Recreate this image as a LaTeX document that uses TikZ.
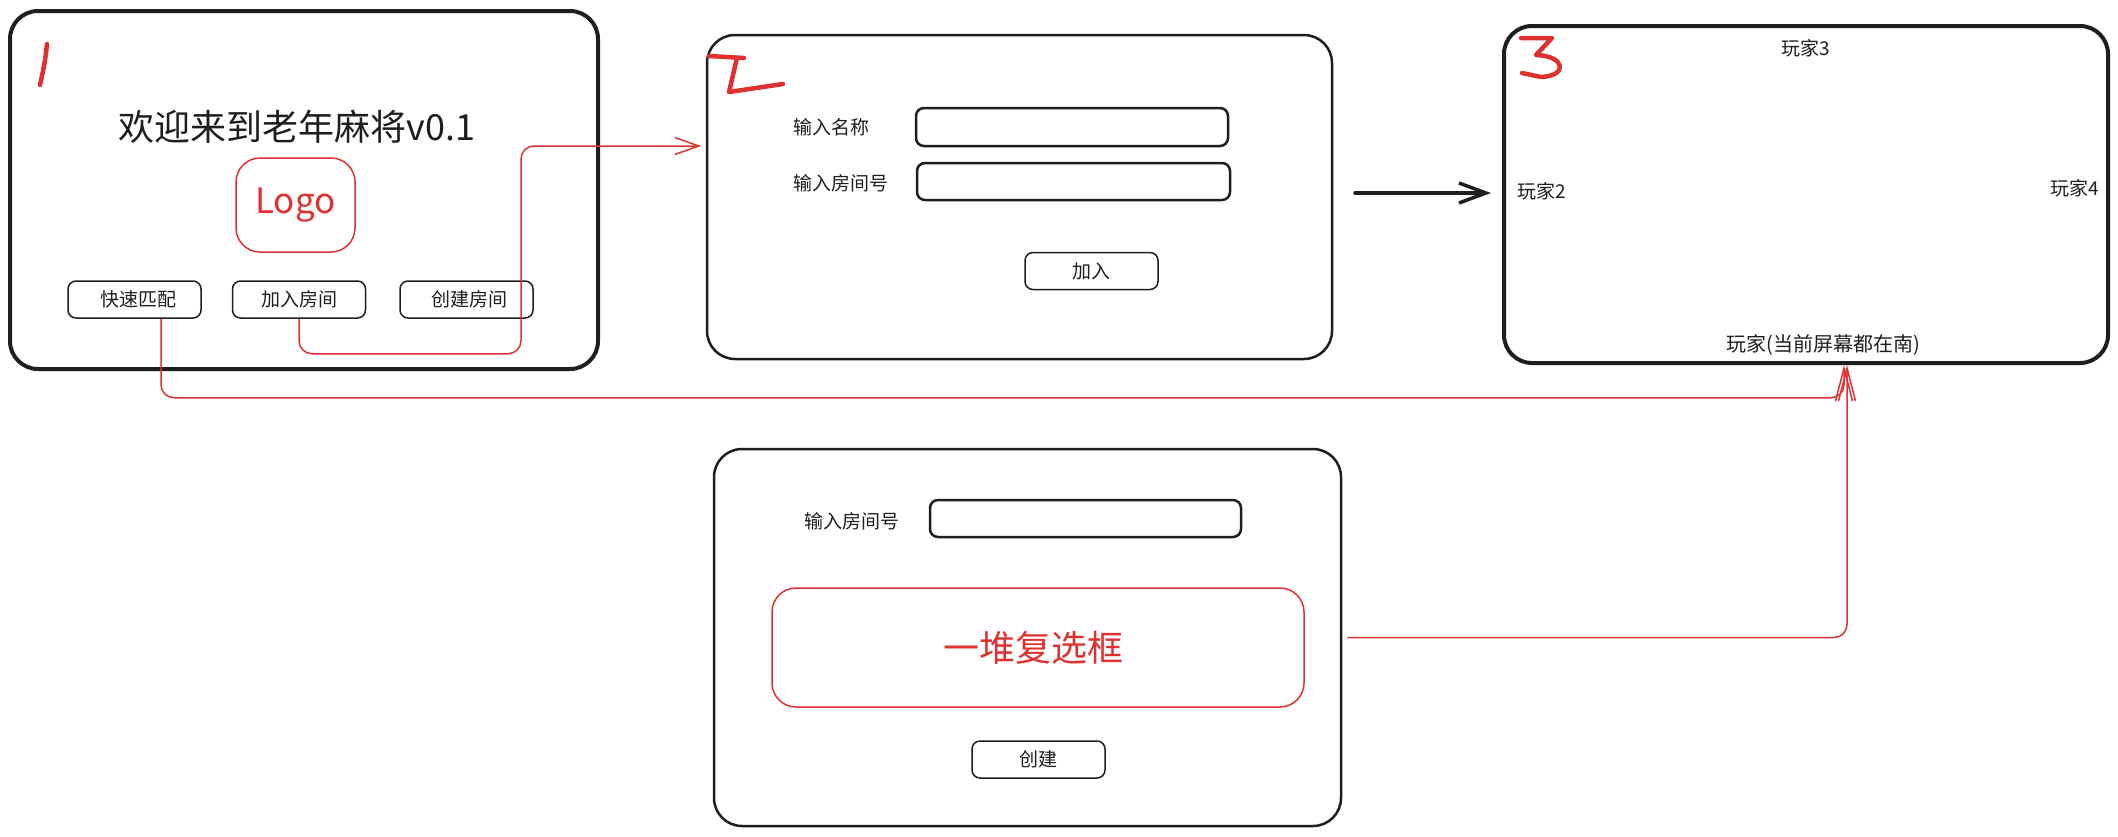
\documentclass[tikz,border=0pt]{standalone}
\usepackage{fontspec}
\setmainfont{Noto Sans CJK SC}
\usetikzlibrary{arrows.meta,calc}
\definecolor{ink}{HTML}{1E1E1E}
\definecolor{mark}{HTML}{E03131}
\newcommand\fsz[1]{\fontsize{#1}{#1}\selectfont}

\begin{document}
\begin{tikzpicture}[x=1pt,y=-1pt,
  panel/.style={draw=ink, rounded corners=28pt, inner sep=0pt},
  thickpanel/.style={panel, line width=4pt},
  thinpanel/.style={panel, line width=2.5pt},
  btn/.style={draw=ink, line width=1.5pt, rounded corners=8pt, minimum width=133pt,
    minimum height=37pt, inner sep=0pt, font=\fsz{19}, text=ink},
  field/.style={draw=ink, line width=2.5pt, rounded corners=8pt, inner sep=0pt},
  lbl/.style={inner sep=0pt, font=\fsz{19}, text=ink},
  redbox/.style={draw=mark, line width=1.5pt, rounded corners=24pt, inner sep=0pt, text=mark},
  flow/.style={draw=mark, line width=1.5pt, rounded corners=13pt,
    -{Straight Barb[length=24pt,width=17pt,line width=1.5pt]}},
  flowlong/.style={flow, -{Straight Barb[length=33pt,width=17pt,line width=1.5pt]}},
  digit/.style={draw=mark, line width=4.5pt, line cap=round, line join=round},
]
\fill[white] (0,0) rectangle (2118,836);
\useasboundingbox (0,0) rectangle (2118,836);

% ---- screen 1: welcome ----
\node[thickpanel, minimum width=588pt, minimum height=358pt] (s1) at (304,190) {};
\draw[digit] (47,44) .. controls (45,62) .. (40,85);
\node[inner sep=0pt, font=\fsz{36}, text=ink] (title) at (297,127) {欢迎来到老年麻将v0.1};
\node[redbox, minimum width=119pt, minimum height=94pt, font=\fsz{35}] (logo) at (295.5,205) {\raisebox{-3pt}{Logo}};
\node[btn] (quick) at (134.5,299.5) {\hspace*{8pt}快速匹配};
\node[btn] (join) at (299,299.5) {加入房间};
\node[btn] (create) at (466.5,299.5) {\hspace*{6pt}创建房间};

% ---- screen 2: join room ----
\node[thinpanel, minimum width=625pt, minimum height=324pt] (s2) at (1019.5,197) {};
\draw[digit] (709,56) -- (744,58);
\draw[digit] (737,58) -- (729,92) -- (783,84);
\node[lbl, anchor=west] (nameLbl) at (793,127) {输入名称};
\node[field, minimum width=312pt, minimum height=38pt] (nameIn) at (1072,127) {};
\node[lbl, anchor=west] (roomLbl) at (793,183) {输入房间号};
\node[field, minimum width=313pt, minimum height=37pt] (roomIn) at (1073.5,181.5) {};
\node[btn] (joinBtn) at (1091.5,271) {加入};

% ---- screen 3: table ----
\node[thickpanel, minimum width=604pt, minimum height=337pt] (s3) at (1806,194.5) {};
\draw[digit] (1521,38) -- (1552,38) -- (1536,55)
  .. controls (1566,56) and (1568,76) .. (1541,77) -- (1522,73);
\node[lbl] (p3) at (1806,48) {玩家3};
\node[lbl, anchor=west] (p2) at (1517,191) {玩家2};
\node[lbl, anchor=east] (p4) at (2099,188) {玩家4};
\node[lbl, font=\fsz{20}] (p1) at (1823,345) {玩家(当前屏幕都在南)};

% ---- screen 4: create room ----
\node[thinpanel, minimum width=627pt, minimum height=377pt] (s4) at (1027.5,637.5) {};
\node[lbl, anchor=west] (room4Lbl) at (804,521) {输入房间号};
\node[field, minimum width=311pt, minimum height=37pt] (room4In) at (1085.5,518.5) {};
\node[redbox, minimum width=532pt, minimum height=119pt, font=\fsz{36}] (checks) at (1038,647.5) {一堆复选框\hspace*{10pt}};
\node[btn] (createBtn) at (1038.5,759.5) {创建};

% ---- connectors ----
\coordinate (s2in) at (701,146);
\coordinate (s3in) at (1847,365);
\coordinate (quickOut) at ($(quick.south)+(26.5,0)$);
\coordinate (s4out) at ($(s4.east)+(5,0)$);
\coordinate (goA) at (1355,193);
\coordinate (goB) at (1491,193);

\draw[flow] (join.south) -- ++(0,35) -| (521,146) -- (s2in);
\draw[flowlong] (quickOut) -- ++(0,79) -| ($(s3in)+(-3,0)$);
\draw[flowlong] (s4out) -| (s3in);
\draw[ink, line width=3.5pt, line cap=round,
  -{Straight Barb[length=27pt,width=20pt,line width=3.5pt]}] (goA) -- (goB);
\end{tikzpicture}
\end{document}
